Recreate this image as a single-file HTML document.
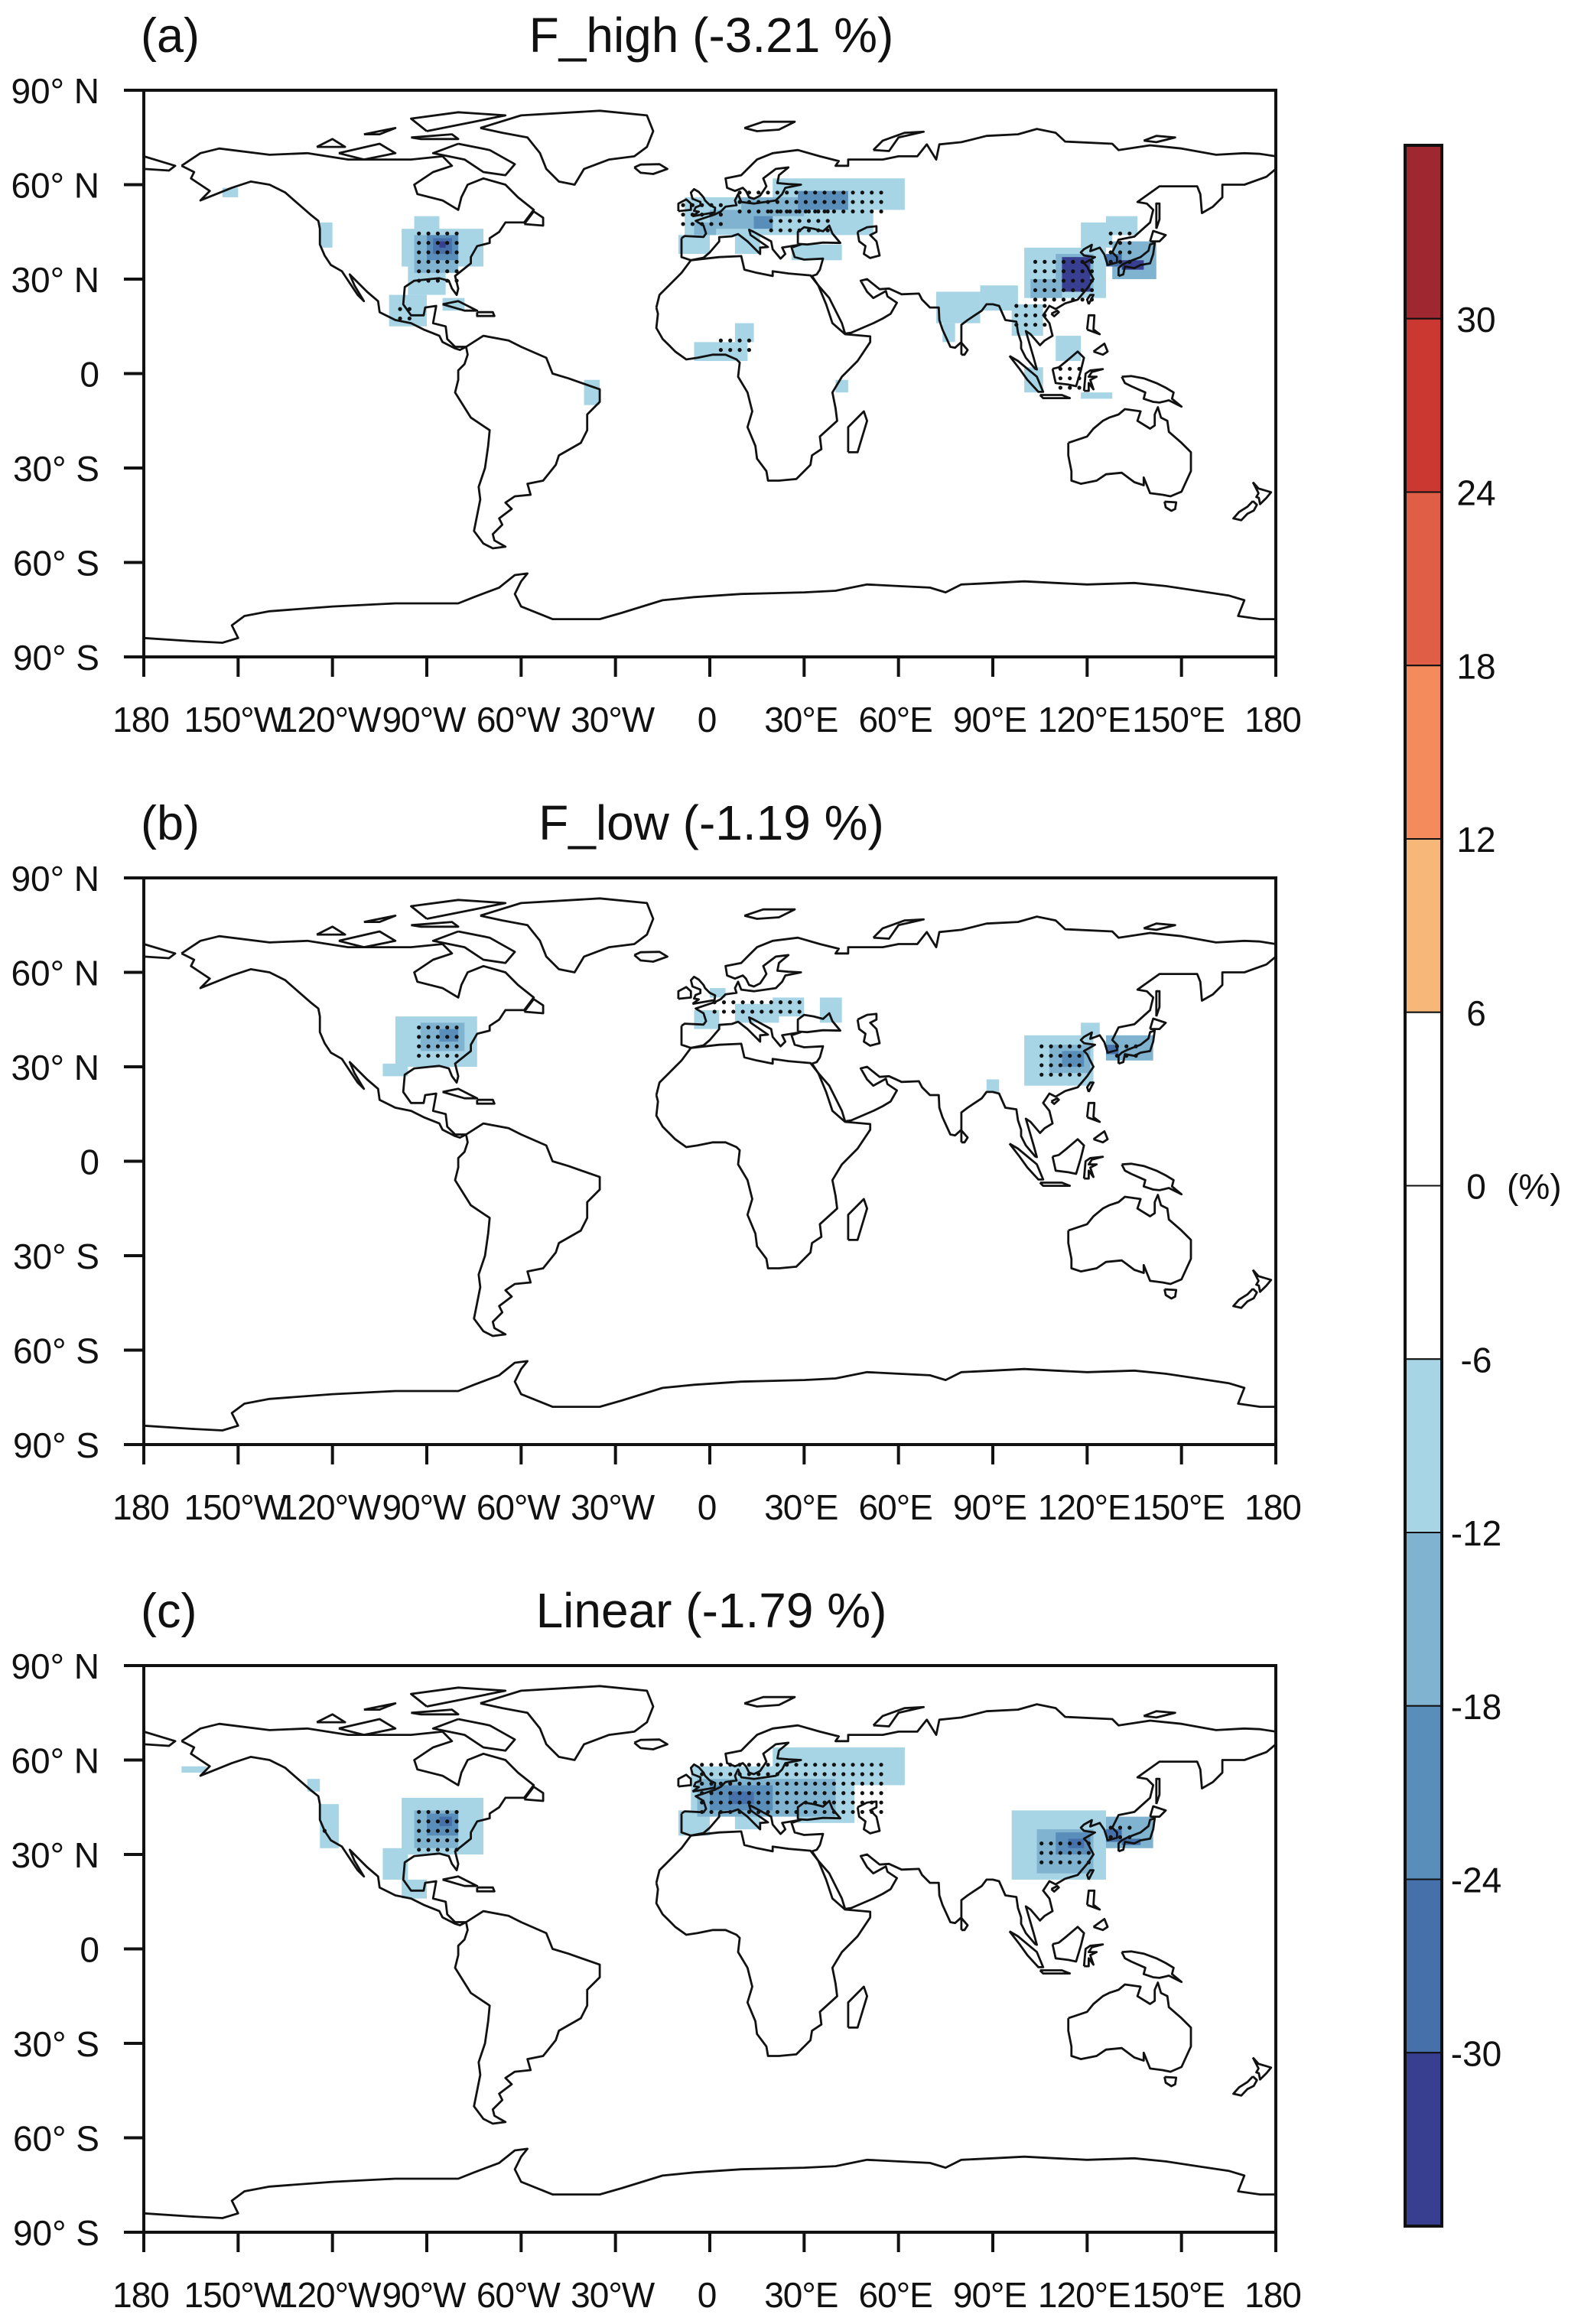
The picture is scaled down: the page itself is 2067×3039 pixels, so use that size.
<!DOCTYPE html>
<html><head><meta charset="utf-8"><style>
html,body{margin:0;padding:0;background:#fff;}
svg{display:block;font-family:"Liberation Sans",Arial,sans-serif;}
</style></head><body>
<svg id="fig" width="2067" height="3039" viewBox="0 0 2067 3039" xmlns="http://www.w3.org/2000/svg"></svg>
<script>
// ---------- DATA ----------
const panelLabels = ["(a)", "(b)", "(c)"];
const panelTitles = ["F_high (-3.21 %)", "F_low (-1.19 %)", "Linear (-1.79 %)"];
const latTicks = [90, 60, 30, 0, -30, -60, -90];
const latTickLabels = ["90° N", "60° N", "30° N", "0", "30° S", "60° S", "90° S"];
const lonTicks = [-180, -150, -120, -90, -60, -30, 0, 30, 60, 90, 120, 150, 180];
const lonTickLabels = ["180", "150°W", "120°W", "90°W", "60°W", "30°W", "0", "30°E", "60°E", "90°E", "120°E", "150°E", "180"];
const cbColors = ["#9e2730", "#cb3832", "#e05e45", "#f38b5c", "#f6b778", "#ffffff", "#ffffff", "#a7d5e5", "#7fb3d0", "#598eba", "#4570a9", "#383f91"];
const cbLabels = ["30", "24", "18", "12", "6", "0", "-6", "-12", "-18", "-24", "-30"];
const levelColors = ["", "#a7d5e5", "#7fb3d0", "#598eba", "#4570a9", "#383f91"];

// shaded regions [lon0, lat0, lon1, lat1, level]
const shadeA = [
 [-124,40,-120,48,1],[-155,56,-150,59,1],
 [-98,34,-72,46,1],[-96,25,-84,34,1],[-102,15,-90,25,1],[-94,38,-86,50,1],[-85,20,-78,24,1],
 [-94,32,-80,44,2],[-90,36,-80,44,3],[-88,38,-82,43,4],[-86,40,-84,42,5],
 [-50,-2,-40,-4,1],[-40,-10,-35,-2,1],
 [-10,38,0,44,1],[-8,44,30,56,1],[20,52,62,62,1],[28,44,52,52,1],[26,36,42,41,1],[8,38,16,45,1],
 [0,46,20,52,2],[10,50,30,56,2],[28,52,44,58,3],[14,46,20,50,3],[-5,44,2,48,2],
 [-5,4,12,10,1],[8,10,14,16,1],[40,-6,44,-2,1],
 [72,16,86,26,1],[74,10,78,16,1],[86,20,98,28,1],[96,12,106,22,1],[100,-6,106,2,1],[110,4,118,12,1],[118,-8,128,-6,1],
 [100,24,126,40,1],[118,40,128,48,1],[126,44,136,50,1],
 [102,24,112,30,2],[110,26,122,38,2],[128,30,142,42,2],
 [112,26,121,37,5],[126,34,131,38,4],[131,33,138,36,5]
];
const shadeB = [
 [-100,30,-74,46,1],[-92,35,-78,44,2],[-86,38,-80,42,3],[-104,27,-96,31,1],
 [-5,42,3,48,1],[8,44,22,50,1],[20,46,30,52,1],[35,44,42,52,1],[0,52,5,55,1],
 [100,24,122,40,1],[108,28,121,37,2],[112,30,119,35,3],[126,32,141,40,2],[126,34,130,37,4],[88,22,92,26,1],[118,40,124,44,1]
];
const shadeC = [
 [-124,32,-118,46,1],[-168,56,-160,58,1],[-128,50,-124,54,1],
 [-98,30,-72,48,1],[-104,22,-96,32,1],[-98,16,-90,22,1],
 [-94,32,-80,44,2],[-90,36,-80,43,3],[-86,39,-82,42,4],
 [-10,36,0,44,1],[-6,44,32,58,1],[20,52,62,64,1],[28,40,46,52,1],[8,38,16,45,1],
 [-4,42,40,54,2],[0,44,20,52,3],[6,46,14,50,4],
 [96,22,126,44,1],[104,24,122,38,2],[110,30,121,37,3],[114,32,119,35,4],[126,32,141,42,2],[126,34,131,38,4],[131,33,137,35,4]
];
// stippled regions [lon0, lat0, lon1, lat1]
const dotsA = [[-94,28,-78,46],[-100,16,-94,22],[2,6,14,12],[-10,46,5,56],[8,50,56,60],[18,44,40,52],[102,22,122,37],[126,34,134,46],[96,14,108,22],[110,-6,118,4]];
const dotsB = [[-94,32,-78,44],[104,26,120,38],[128,32,136,38],[0,46,30,52]];
const dotsC = [[-94,30,-78,44],[-124,36,-120,40],[-4,42,56,60],[104,26,122,36],[126,34,134,40]];

// coastlines (lon, lat)
const coasts = [
 [[-168,66],[-162,70],[-156,71.5],[-140,69.5],[-128,70],[-115,68],[-95,68],[-85,69],[-82,66],[-88,64],[-94,60],[-93,57],[-85,55],[-80,52],[-79,56],[-77,60],[-72,62],[-65,60],[-61,56],[-56,52],[-59,48],[-65,48],[-67,45],[-70,43],[-70,41.5],[-74,40.5],[-76,37],[-76,35],[-81,31],[-80,27],[-80.5,25],[-82,27],[-83,29.5],[-86,30.3],[-89,30],[-94,29.5],[-97,27.5],[-97.5,22],[-95,18.5],[-91,18.5],[-90.5,21],[-87,21.5],[-88,16],[-84,15],[-83.5,11],[-81,8.5],[-77.5,8.5],[-79.5,7.5],[-81,8],[-85,10],[-86,12],[-91,14],[-95,16],[-100,17],[-105,19.5],[-105.5,23],[-109,26],[-112.5,29.5],[-114.5,31.5],[-113,28],[-110,23],[-112,25],[-114,28],[-116,31],[-117,32.5],[-120.5,34.5],[-122.5,37.5],[-124,41],[-124,46],[-124.5,48.5],[-127,50.5],[-131,54],[-135,57.5],[-140,60],[-146,61],[-152,59],[-157,57],[-162,55],[-159,58],[-162,60],[-165,62],[-164,64],[-168,66]],
 [[-73,78],[-60,82],[-35,83.5],[-20,82],[-18,77],[-20,72],[-24,69],[-32,68],[-40,65],[-43,60],[-48,61],[-52,65],[-54,70],[-58,75],[-66,76.5],[-73,78]],
 [[-80,73],[-70,71],[-62,66.5],[-65,63],[-72,64],[-78,68],[-88,70],[-80,73]],
 [[-118,70],[-105,73],[-100,70],[-110,68],[-118,70]],
 [[-90,77],[-75,80],[-65,82],[-80,83],[-95,81],[-90,77]],
 [[-125,72],[-120,74.5],[-116,72],[-125,72]],
 [[-95,75],[-82,76],[-80,74.5],[-92,74.5],[-95,75]],
 [[-110,76],[-100,78],[-105,76],[-110,76]],
 [[-59,47.5],[-53,47],[-53,49.5],[-56,51.5],[-59,47.5]],
 [[-85,22],[-80,23],[-74,20],[-78,20],[-85,22]],
 [[-74,19.5],[-69,19.5],[-68.5,18.3],[-74,18.3],[-74,19.5]],
 [[-77.5,8.5],[-72,12],[-64,10.5],[-60,8.5],[-52,5],[-50,0],[-45,-1.5],[-35,-5],[-35,-9],[-39,-13],[-39,-18],[-41,-22],[-48,-26],[-49,-29],[-53,-34],[-58,-35],[-57,-38.5],[-62,-39],[-65,-41],[-63,-43],[-67,-46],[-66,-48],[-69,-51],[-68.5,-53],[-65,-55],[-69,-55.5],[-72,-54],[-75,-50],[-74,-45],[-73,-40],[-73.5,-36],[-71.5,-30],[-70.5,-23],[-70,-18],[-76,-14],[-81,-6],[-80,-2],[-80,1],[-78,3],[-77,6],[-77.5,8.5]],
 [[-17,21],[-16,25],[-13,28],[-9,32],[-6,36],[3,37],[10,37.3],[11,33],[15,32],[20,31],[20,32.5],[25,31.8],[32,31.2],[34.5,28],[37,22],[39,16],[43,12.5],[51,11.8],[51,10],[47,4],[42,-1],[39,-6],[40,-11],[40.5,-15],[35,-20],[35.5,-24],[32.5,-26],[32,-29],[27.5,-33.5],[22,-34],[18.5,-34],[18,-31],[15,-27],[14.5,-23],[12,-17],[13.5,-12],[12,-6],[9,-1],[9.5,3.5],[8.5,4.5],[5,6],[1,6],[-4,5],[-7.5,4.5],[-11,7],[-13,9],[-15,11],[-17,14.5],[-16.5,19],[-17,21]],
 [[44,-25],[47,-25],[50,-15],[49,-12],[44,-17],[44,-25]],
 [[-9,43],[-9,39],[-9,37],[-6,36],[-2,36.8],[0,38.5],[3,42],[3,43.3],[7,43.6],[9,44.3],[12,42],[16,38],[16,40],[18.5,40.2],[13,44],[12.5,45.7],[14,45],[19.5,42],[20,39.5],[22.5,36.5],[24,38],[23,40],[26,40.5],[29,41],[26,40],[27,37],[30,36.2],[36,36.5],[35,33],[34,31.5],[32.5,31],[34.5,28],[38,24],[42,16],[43,12.7],[45,13],[52,16],[55,17.5],[57.5,19],[59.5,22.5],[56.5,24.5],[56,26.2],[52,24],[50,26],[48,29.5],[50,30],[54,26.8],[57,27],[61,25.2],[66.5,25.4],[67.5,23.5],[70,21],[72.8,21],[73,17],[74,14],[76.5,8.5],[78,8.2],[80,10],[80,15.5],[82,17],[86.5,20],[88,22],[90,22],[92,21.5],[94,17],[97.5,16.5],[98,13],[99,10],[99,8],[100.5,5],[103.5,1.5],[104,1.3],[103,5],[100.5,13.5],[102,12.5],[105,9],[106.5,10.5],[109,12],[108,16],[106,18.5],[108,21.5],[110,20.5],[113,22.3],[117,23.5],[120,27],[122,30],[121,32],[120,34],[119,35],[122.5,37],[119,37.5],[118,38.5],[119,39.5],[121.5,40.9],[121,38.9],[124,40],[125.5,37.8],[126.5,34.5],[129.5,35.3],[129.5,37],[128,38.5],[130,42.5],[135,43.5],[140,48],[141,52],[139,54],[136,54.5],[143,59.5],[150,59.5],[155,59.5],[156,57],[156.5,51],[160,53],[163,56],[163,60],[170,60],[177,62.5],[180,65],[180,69],[175,69.8],[170,70],[161,69.5],[150,71.5],[140,72.5],[130,71],[128,73],[113,73.7],[110,76.5],[104,77.7],[98,76],[88,75.5],[80,73.5],[73,72.8],[72,68],[69,72.8],[66,69],[60,69],[55,68],[44,68],[44,66],[40,66],[41,67.5],[35,69],[28,71],[20,70],[15,68],[12,65],[10,63],[5,62],[5.5,59],[8,58],[10.5,59],[11.5,58],[12.5,56],[14,55.5],[16,56.5],[18,59.5],[17,62],[21,65],[25,65.5],[22,63],[21.5,60.5],[25,60.2],[29,60],[24,59],[23,57],[21,55],[14,54],[10,54.5],[9,57],[8,55],[8.5,53.5],[5,53],[3.5,51.5],[1.5,50.5],[-1.5,49.5],[-4.5,48.5],[-2,47],[-1.2,44.5],[-2,43.4],[-8,43.7],[-9,43]],
 [[-180,65],[-172,64.5],[-170,66],[-180,69]],
 [[28,41.2],[28,45],[30,46.5],[33,46],[36,45.2],[38,47],[39,44.5],[41.5,41.5],[36,41.6],[31,41],[28,41.2]],
 [[47,45],[50,46.5],[53,46.8],[53,45],[51,44],[53,42],[54,37.5],[51,36.7],[49,38],[49.5,40.5],[47.5,42],[47,45]],
 [[-5.5,50],[1.5,51.2],[1.7,52.7],[0,53.5],[-1.5,55],[-2,56],[-3.5,57.7],[-5,58.6],[-6,57.5],[-5.5,55.5],[-3,54.5],[-3,53.4],[-4.5,52.8],[-5,51.7],[-3.5,51.4],[-5.5,50]],
 [[-10,51.6],[-6,52],[-6,54],[-7.5,55.3],[-10,54],[-10,51.6]],
 [[-24,65.5],[-22,66.4],[-16,66.5],[-13.5,65],[-18,63.4],[-22,63.8],[-24,65.5]],
 [[130,31],[131.5,31.5],[132,34],[135,33.5],[137,34.5],[140,35],[141,38],[141.5,41.5],[140,41],[139.5,39],[137,37],[133,35.5],[131,34.5],[130,33.5],[130,31]],
 [[140,42],[141,45.3],[145,44],[143,42],[140,42]],
 [[142,46],[143,49],[143,54],[142,54],[142,46]],
 [[120.5,22],[122,25],[121,25],[120,23.5],[120.5,22]],
 [[108.6,19],[110.5,20],[111,19.5],[109.5,18.2],[108.6,19]],
 [[120,14],[120.5,18.5],[122.3,18.5],[122,14],[124,12.5],[120,14]],
 [[122,7],[125.5,9.5],[126.5,7],[125,6],[122,7]],
 [[80,6],[80,9.8],[82,7.5],[81,6],[80,6]],
 [[109,1.5],[111,2],[113.5,4],[117,7],[119,5],[118,1],[116.5,-4],[114,-3.5],[110,-3],[109,1.5]],
 [[95.3,5.6],[98,4],[104,-1],[106,-5.8],[104.5,-5.8],[101,-2],[98.5,1.5],[95.3,5.6]],
 [[105,-6.8],[112,-6.8],[114.5,-7.8],[106,-7.8],[105,-6.8]],
 [[119,-5.5],[119.5,0],[121,1],[125,1.4],[121.5,0.5],[120.5,-1],[123,-1],[121,-2],[122,-5],[120.5,-3],[120.5,-5.5],[119,-5.5]],
 [[131,-1],[134,-0.8],[138,-1.5],[142,-3],[145,-4.5],[147.5,-6],[147,-8],[150,-10.5],[146,-8.5],[143,-9.2],[141,-9],[138,-8],[138.5,-6],[134,-4],[132,-3],[131,-1]],
 [[114,-22],[114,-26],[115,-31],[115,-34],[118,-35],[123,-34],[126,-32],[131,-31.5],[135,-34.5],[138,-35.5],[138,-33],[140,-38],[144,-38.5],[146.5,-39],[150,-37.5],[153,-31],[153,-25],[150,-22],[146,-18.5],[145.5,-15],[143.5,-14],[142.5,-10.7],[141.5,-13],[141.5,-16.5],[140,-17.5],[136,-15],[137,-12],[132,-11.3],[130,-13],[127,-14],[125,-15],[122,-17.5],[120,-20],[114,-22]],
 [[144.6,-40.7],[148.3,-40.9],[148,-43],[146.8,-43.6],[145,-42.5],[144.6,-40.7]],
 [[172.7,-34.5],[174.5,-36.5],[178.5,-37.7],[177,-39.5],[175,-41.5],[174.6,-39.5],[173.8,-39.2],[174.5,-38],[172.7,-34.5]],
 [[172.7,-40.5],[174,-41.7],[173,-43.5],[171,-44.5],[169,-46.6],[166.5,-46],[168.3,-44],[171,-42.3],[172.7,-40.5]],
 [[11,78],[17,80],[27,80],[22,77.5],[15,77],[11,78]],
 [[52,71],[57,70.7],[60,75],[68,76.8],[62,76.5],[55,74],[52,71]],
 [[138,74],[142,75.5],[148,75],[142,73.5],[138,74]],
 [[-180,-84],[-165,-85],[-155,-85.5],[-150,-84],[-152,-80],[-148,-77],[-140,-75.5],[-120,-74],[-100,-73],[-80,-73],[-75,-71],[-67,-68],[-62,-64],[-58,-63.5],[-60,-66],[-62,-70],[-60,-74],[-50,-78],[-35,-78],[-28,-76],[-15,-72],[-5,-71],[10,-70],[30,-69.5],[40,-69],[50,-67],[60,-67.5],[70,-68],[75,-69.5],[80,-67],[90,-66.5],[100,-66],[110,-66.5],[120,-67],[135,-66.5],[145,-67.5],[155,-69],[165,-70.5],[170,-72],[168,-77],[175,-78],[180,-78]]
];

// ---------- DRAW ----------
const NS = "http://www.w3.org/2000/svg";
const svg = document.getElementById("fig");
function mk(tag, attrs, parent) {
  const e = document.createElementNS(NS, tag);
  for (const k in attrs) e.setAttribute(k, attrs[k]);
  (parent || svg).appendChild(e);
  return e;
}
const X0 = 188, W = 1480, H = 741;
const tops = [118, 1148, 2178];
const shades = [shadeA, shadeB, shadeC];
const dots = [dotsA, dotsB, dotsC];

tops.forEach((top, p) => {
  const xs = lon => X0 + (lon + 180) / 360 * W;
  const ys = lat => top + (90 - lat) / 180 * H;
  const g = mk("g", {});
  
  

  const lbl = mk("text", {x: 184, y: top - 50, "font-size": 63, fill: "#111"}, g);
  lbl.textContent = panelLabels[p];
  
  
  const ttl = mk("text", {x: 930, y: top - 50, "font-size": 64, "text-anchor": "middle", fill: "#111"}, g);
  ttl.textContent = panelTitles[p];
  
  

  shades[p].forEach(r => {
    const rc = mk("rect", {x: xs(r[0]), y: ys(r[3]), width: xs(r[2]) - xs(r[0]), height: ys(r[1]) - ys(r[3]), fill: levelColors[r[4]]}, g);
    
    
  });
  dots[p].forEach(r => {
    for (let lo = r[0] + 1.5; lo < r[2]; lo += 3) for (let la = r[1] + 1.5; la < r[3]; la += 3) {
      const c = mk("circle", {cx: xs(lo), cy: ys(la), r: 2.6, fill: "#111"}, g);
      
      
    }
  });
  coasts.forEach(poly => {
    const d = poly.map((pt, i) => (i ? "L" : "M") + xs(pt[0]).toFixed(1) + "," + ys(pt[1]).toFixed(1)).join("");
    const pa = mk("path", {d: d, fill: "none", stroke: "#111", "stroke-width": 2.8, "stroke-linejoin": "round"}, g);
    
    
  });
  const fr = mk("rect", {x: X0, y: top, width: W, height: H, fill: "none", stroke: "#111", "stroke-width": 4}, g);
  
  
  const ext1 = mk("line", {x1: X0 - 26, x2: X0, y1: top, y2: top, stroke: "#111", "stroke-width": 4}, g);
  
  

  latTicks.forEach((la, i) => {
    const y = ys(la);
    const t = mk("line", {x1: X0 - 26, x2: X0, y1: y, y2: y, stroke: "#111", "stroke-width": 4}, g);
    
    
    const tx = mk("text", {x: 130, y: y + 17, "font-size": 46, "text-anchor": "end", fill: "#111"}, g);
    tx.textContent = latTickLabels[i];
    
    
  });
  lonTicks.forEach((lo, i) => {
    const x = xs(lo);
    const t = mk("line", {x1: x, x2: x, y1: top + H, y2: top + H + 26, stroke: "#111", "stroke-width": 4}, g);
    
    
    const tx = mk("text", {x: x - 4, y: top + H + 98, "font-size": 46, "text-anchor": "middle", fill: "#111", "letter-spacing": -1}, g);
    tx.textContent = lonTickLabels[i];
    
    
  });
});

// colorbar
const CB_X = 1837, CB_W = 48, CB_T = 190, CB_B = 2911;
const segH = (CB_B - CB_T) / cbColors.length;
const cb = mk("g", {});


cbColors.forEach((c, i) => {
  const r = mk("rect", {x: CB_X, y: CB_T + i * segH, width: CB_W, height: segH, fill: c, stroke: "#111", "stroke-width": 2}, cb);
  
  
});
const cbo = mk("rect", {x: CB_X, y: CB_T, width: CB_W, height: CB_B - CB_T, fill: "none", stroke: "#111", "stroke-width": 4}, cb);


cbLabels.forEach((l, i) => {
  const y = CB_T + (i + 1) * segH;
  const t = mk("text", {x: 1930, y: y + 17, "font-size": 46, "text-anchor": "middle", fill: "#111"}, cb);
  t.textContent = l;
  
  
});
const unit = mk("text", {x: 1970, y: CB_T + 6 * segH + 17, "font-size": 46, fill: "#111"}, cb);
unit.textContent = "(%)";


</script>
</body></html>
